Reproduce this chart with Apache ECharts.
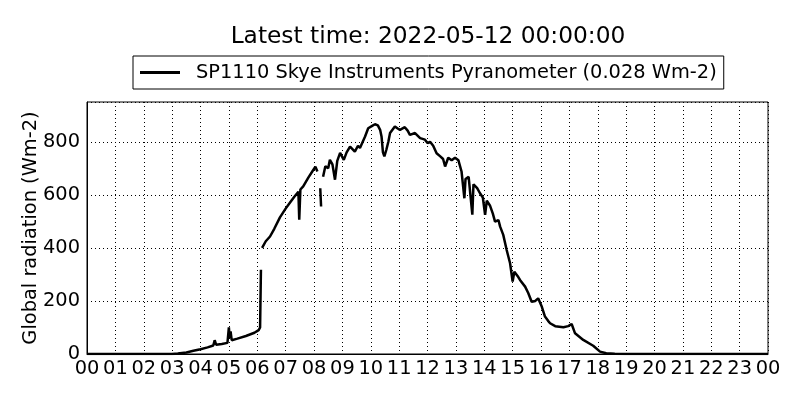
<!DOCTYPE html>
<html>
<head>
<meta charset="utf-8">
<script src="https://cdn.jsdelivr.net/npm/echarts@6/dist/echarts.min.js"></script>
<style>
  html, body { margin: 0; padding: 0; background: #fff; }
  #chart { width: 800px; height: 400px; }
</style>
</head>
<body>
<div id="chart"></div>
<script>
// hour of day (decimal) and radiation in Wm-2, null = gap in record
var hours = [
    0, 1, 2, 3, 3.2, 3.5, 3.75, 4.0, 4.25, 4.45, 4.5, 4.55, 4.75, 4.95,
    5.0, 5.03, 5.06, 5.1, 5.3, 5.6, 5.9, 6.05, 6.1, 6.13, 6.15,
    6.17, 6.3, 6.45, 6.6, 6.8, 7.0, 7.15, 7.3, 7.45, 7.48, 7.52, 7.62, 7.8, 7.95,
    8.05, 8.12, 8.17, 8.22, 8.25, 8.28, 8.32, 8.4, 8.5, 8.56, 8.65, 8.74, 8.82, 8.92,
    9.05, 9.15, 9.27, 9.44, 9.55, 9.62, 9.8, 9.91,
    10.05, 10.15, 10.25, 10.33, 10.38, 10.43, 10.48, 10.55, 10.62, 10.68, 10.85, 10.95,
    11.03, 11.2, 11.3, 11.38, 11.56, 11.74, 11.91,
    12.0, 12.09, 12.2, 12.32, 12.45, 12.55, 12.62, 12.73, 12.85, 12.97,
    13.09, 13.2, 13.3, 13.34, 13.45, 13.5, 13.58, 13.62, 13.67, 13.75, 13.85, 13.95,
    14.03, 14.09, 14.2, 14.3, 14.38, 14.5, 14.56, 14.67, 14.79, 14.91,
    15.0, 15.06, 15.12, 15.2, 15.26, 15.44, 15.55, 15.67, 15.8, 15.9,
    16.03, 16.14, 16.25, 16.32, 16.5, 16.79, 16.96,
    17.08, 17.2, 17.49, 17.84, 18.08, 18.3, 18.6, 19, 20, 21, 22, 23, 24
];
var radiation = [
    0, 0, 0, 0, 2, 6, 12, 18, 25, 32, 52, 35, 38, 42,
    100, 60, 85, 52, 58, 68, 80, 90, 100, 318, null,
    400, 425, 443, 472, 515, 548, 570, 592, 612, 506, 620, 632, 665, 690,
    706, 688, null, 625, 556, null, 668, 708, 700, 732, 715, 657, 728, 758,
    732, 760, 782, 763, 785, 777, 820, 851,
    860, 866, 862, 845, 820, 760, 745, 770, 800, 833, 858, 850,
    845, 855, 842, 826, 833, 814, 808,
    795, 800, 785, 757, 745, 735, 707, 740, 730, 740,
    730, 688, 587, 660, 668, 663, 525, 640, 645, 625, 606, 590,
    525, 578, 560, 530, 499, 505, 480, 449, 392, 342,
    273, 310, 317, 290, 279, 254, 230, 197, 200, 210,
    178, 141, 125, 116, 105, 101, 105,
    113, 78, 53, 31, 9, 3, 1, 0, 0, 0, 0, 0, 0
];
var yTicks = [0, 200, 400, 600, 800];
var seriesName = 'SP1110 Skye Instruments Pyranometer (0.028 Wm-2)';

var font = 'DejaVu Sans';
var points = [];
for (var i = 0; i < hours.length; i++) {
    points.push([hours[i], radiation[i] == null ? '-' : radiation[i]]);
}

var chart = echarts.init(document.getElementById('chart'));
chart.setOption({
    animation: false,
    backgroundColor: '#fff',
    title: {
        text: 'Latest time: 2022-05-12 00:00:00',
        left: 423,
        textAlign: 'center',
        top: 20,
        textStyle: { fontFamily: font, fontSize: 23.3, fontWeight: 'normal', color: '#000' }
    },
    legend: {
        data: [{ name: seriesName, icon: 'rect' }],
        top: 56,
        left: 133,
        padding: [7, 7, 7, 7],
        borderColor: '#000',
        borderWidth: 1,
        itemWidth: 40,
        itemHeight: 3,
        itemGap: 10,
        textStyle: { fontFamily: font, fontSize: 19.4, color: '#000', padding: [0, 0, 0, 11] }
    },
    grid: {
        left: 87, right: 32, top: 102, bottom: 46,
        show: true, borderColor: '#000', borderWidth: 1
    },
    xAxis: {
        type: 'value',
        min: 0, max: 24, interval: 1,
        axisLine: { lineStyle: { color: '#000' } },
        axisTick: { show: false },
        axisLabel: {
            color: '#000', fontFamily: font, fontSize: 19.4, margin: 5,
            formatter: function (v) { var h = v % 24; return (h < 10 ? '0' : '') + h; }
        },
        splitLine: { show: true, lineStyle: { color: '#000', type: [1, 3], width: 1 } }
    },
    yAxis: {
        type: 'value',
        min: 0, max: 950, interval: 200,
        name: 'Global radiation (Wm-2)',
        nameLocation: 'middle',
        nameGap: 47,
        nameMoveOverlap: false,
        nameTextStyle: { fontFamily: font, fontSize: 19.4, color: '#000' },
        axisLine: { show: true, lineStyle: { color: '#000' } },
        axisTick: { show: false },
        axisLabel: {
            color: '#000', fontFamily: font, fontSize: 19.4, margin: 7,
            formatter: function (v) { return yTicks.indexOf(v) >= 0 ? String(v) : ''; }
        },
        splitLine: { show: true, lineStyle: { color: '#000', type: [1, 3], width: 1 } }
    },
    series: [{
        name: seriesName,
        type: 'line',
        symbol: 'none',
        connectNulls: false,
        lineStyle: { color: '#000', width: 2.5 },
        itemStyle: { color: '#000' },
        data: points
    }]
});
</script>
</body>
</html>
